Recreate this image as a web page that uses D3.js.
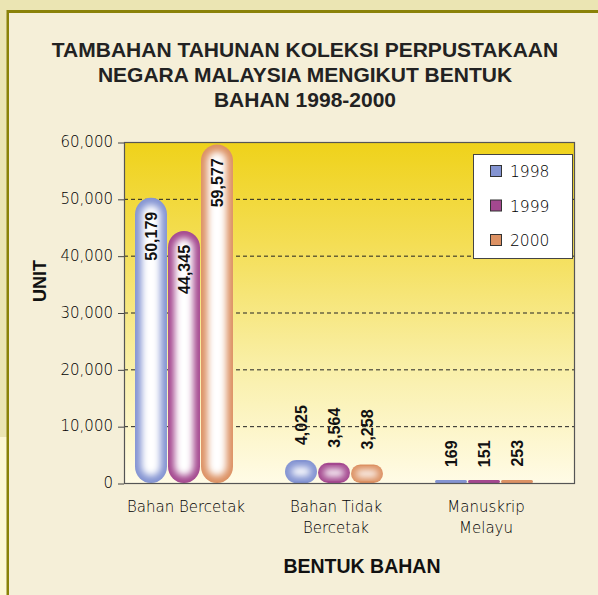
<!DOCTYPE html>
<html>
<head>
<meta charset="utf-8">
<script src="https://cdn.jsdelivr.net/npm/d3@7"></script>
<style>
  body { margin: 0; background: #ebe5b3; }
  svg { display: block; }
</style>
</head>
<body>
<svg id="chart" width="598" height="595"></svg>
<script>
(() => {
  const TITLE_LINES = [
    "TAMBAHAN TAHUNAN KOLEKSI PERPUSTAKAAN",
    "NEGARA MALAYSIA MENGIKUT BENTUK",
    "BAHAN 1998-2000"
  ];
  const CATEGORIES = ["Bahan Bercetak", "Bahan Tidak Bercetak", "Manuskrip Melayu"];
  const CATEGORY_LINES = [["Bahan Bercetak"], ["Bahan Tidak", "Bercetak"], ["Manuskrip", "Melayu"]];
  const YEARS = ["1998", "1999", "2000"];
  const VALUES_1998 = [50179, 4025, 169];
  const VALUES_1999 = [44345, 3564, 151];
  const VALUES_2000 = [59577, 3258, 253];
  const Y_TICKS = [0, 10000, 20000, 30000, 40000, 50000, 60000];
  const Y_LABEL = "UNIT";
  const X_LABEL = "BENTUK BAHAN";

  const COLORS = ["#8494d2", "#a4488f", "#dc9163"];
  const LIGHT_FONT = "'DejaVu Sans', Verdana, sans-serif";
  const BOLD_FONT = "'Liberation Sans', Arial, sans-serif";

  const svg = d3.select("#chart");
  const W = 598, H = 595;
  const plot = { left: 124, top: 142, right: 574, bottom: 483 };

  /* ---------- FRAME ---------- */
  svg.append("rect").attr("width", W).attr("height", H).attr("fill", "#ebe5b3");
  svg.append("rect").attr("x", 0).attr("y", 437).attr("width", 7).attr("height", H - 437).attr("fill", "#fdf8d4");
  svg.append("rect").attr("x", 9).attr("y", 13).attr("width", W - 9).attr("height", H - 13).attr("fill", "#f5efd8");
  svg.append("rect").attr("x", 7).attr("y", 10).attr("width", W - 7).attr("height", 3).attr("fill", "#8a8208");
  svg.append("rect").attr("x", 6.5).attr("y", 10).attr("width", 2.5).attr("height", H - 10).attr("fill", "#8a8208");

  const defs = svg.append("defs");
  const grad = defs.append("linearGradient")
    .attr("id", "plotBg").attr("x1", 0).attr("y1", 0).attr("x2", 0).attr("y2", 1);
  [["0", "#efd21a"], ["0.3", "#f4de55"], ["0.65", "#f9efa6"], ["1", "#fffbe6"]]
    .forEach(([o, c]) => grad.append("stop").attr("offset", o).attr("stop-color", c));
  defs.append("filter").attr("id", "glow")
    .attr("x", "-50%").attr("y", "-50%").attr("width", "200%").attr("height", "200%")
    .append("feGaussianBlur").attr("stdDeviation", 3.5);

  /* ---------- TITLE ---------- */
  svg.append("text")
    .attr("text-anchor", "middle")
    .attr("fill", "#222")
    .style("font-family", BOLD_FONT)
    .style("font-weight", "bold")
    .style("font-size", "21px")
    .selectAll("tspan")
    .data(TITLE_LINES)
    .join("tspan")
    .attr("x", 305)
    .attr("y", (d, i) => 57 + i * 25)
    .text(d => d);

  /* ---------- SCALES ---------- */
  const y = d3.scaleLinear().domain([0, 60000]).range([plot.bottom, plot.top]);

  const x0 = d3.scaleBand()
    .domain(CATEGORIES)
    .range([plot.left - 15, plot.right - 15])
    .paddingInner(0.34)
    .paddingOuter(0.17);

  const x1 = d3.scaleBand().domain(YEARS).range([0, x0.bandwidth()]);
  const color = d3.scaleOrdinal().domain(YEARS).range(COLORS);

  const series = [VALUES_1998, VALUES_1999, VALUES_2000];
  const bars = [];
  CATEGORIES.forEach((cat, ci) => {
    YEARS.forEach((yr, yi) => bars.push({ cat, yr, value: series[yi][ci] }));
  });

  /* ---------- PLOT AREA ---------- */
  svg.append("rect")
    .attr("x", plot.left).attr("y", plot.top)
    .attr("width", plot.right - plot.left).attr("height", plot.bottom - plot.top)
    .attr("fill", "url(#plotBg)");

  svg.append("g")
    .selectAll("line")
    .data(Y_TICKS.filter(t => t > 0 && t < 60000))
    .join("line")
    .attr("x1", plot.left).attr("x2", plot.right)
    .attr("y1", d => y(d) + 0.5).attr("y2", d => y(d) + 0.5)
    .attr("stroke", "#222")
    .attr("stroke-width", 1)
    .attr("stroke-dasharray", "4,3");

  /* ---------- BARS ---------- */
  const barG = svg.append("g");
  bars.forEach(b => {
    const bx = x0(b.cat) + x1(b.yr);
    const bw = x1.bandwidth();
    const top = y(b.value);
    const bh = Math.max(plot.bottom - top, 3);
    const by = plot.bottom - bh;
    const r = Math.min(bw / 2, bh / 2);
    const c = color(b.yr);
    barG.append("rect")
      .attr("x", bx + 0.5).attr("y", by).attr("width", bw - 1).attr("height", bh)
      .attr("rx", r).attr("ry", r)
      .attr("fill", c);
    if (bh > 10) {
      const ins = Math.min(7, bh / 3.2);
      barG.append("rect")
        .attr("x", bx + ins).attr("y", by + ins)
        .attr("width", bw - 2 * ins).attr("height", bh - 2 * ins)
        .attr("rx", Math.max(0, r - ins)).attr("ry", Math.max(0, r - ins))
        .attr("fill", "#fff")
        .attr("filter", "url(#glow)");
    }
  });

  /* ---------- BAR LABELS ---------- */
  const fmt = d3.format(",");
  svg.append("g")
    .selectAll("text")
    .data(bars)
    .join("text")
    .attr("transform", d => {
      const cx = x0(d.cat) + x1(d.yr) + x1.bandwidth() / 2 + 6;
      const inside = plot.bottom - y(d.value) > 80;
      const ty = inside ? y(d.value) + 14 : y(d.value) - 15;
      return `translate(${cx},${ty}) rotate(-90)`;
    })
    .attr("text-anchor", d => (plot.bottom - y(d.value) > 80 ? "end" : "start"))
    .attr("fill", "#111")
    .style("font-family", BOLD_FONT)
    .style("font-weight", "bold")
    .style("font-size", "16px")
    .text(d => fmt(d.value));

  /* ---------- AXES ---------- */
  const yAxis = svg.append("g")
    .attr("transform", `translate(${plot.left},0)`)
    .call(d3.axisLeft(y).tickValues(Y_TICKS).tickFormat(fmt).tickSize(6).tickPadding(5));
  yAxis.select(".domain").remove();
  yAxis.selectAll("line").attr("stroke", "#444").attr("transform", "translate(0,0.5)");
  yAxis.selectAll("text")
    .attr("fill", "#000")
    .style("font-family", LIGHT_FONT)
    .style("font-weight", 300)
    .style("font-size", "15px");

  svg.append("rect")
    .attr("x", plot.left + 0.5).attr("y", plot.top + 0.5)
    .attr("width", plot.right - plot.left).attr("height", plot.bottom - plot.top)
    .attr("fill", "none")
    .attr("stroke", "#555")
    .attr("stroke-width", 1.2);

  const xAxis = svg.append("g")
    .attr("transform", `translate(0,${plot.bottom})`)
    .call(d3.axisBottom(x0).tickSize(0).tickFormat(""));
  xAxis.select(".domain").remove();
  xAxis.selectAll(".tick text")
    .attr("y", 0).attr("dy", null)
    .attr("fill", "#000")
    .style("font-family", LIGHT_FONT)
    .style("font-weight", 300)
    .style("font-size", "15px")
    .each(function (d) {
      const lines = CATEGORY_LINES[CATEGORIES.indexOf(d)];
      d3.select(this).selectAll("tspan")
        .data(lines)
        .join("tspan")
        .attr("x", 2)
        .attr("y", (l, i) => 29 + i * 21)
        .text(l => l);
    });

  svg.append("text")
    .attr("transform", "translate(46,281) rotate(-90)")
    .attr("text-anchor", "middle")
    .attr("fill", "#111")
    .style("font-family", BOLD_FONT)
    .style("font-weight", "bold")
    .style("font-size", "18px")
    .text(Y_LABEL);

  svg.append("text")
    .attr("x", 362).attr("y", 573)
    .attr("text-anchor", "middle")
    .attr("fill", "#111")
    .style("font-family", BOLD_FONT)
    .style("font-weight", "bold")
    .style("font-size", "19.5px")
    .text(X_LABEL);

  /* ---------- LEGEND ---------- */
  const legend = svg.append("g").attr("transform", "translate(473,154)");
  legend.append("rect")
    .attr("x", 0.5).attr("y", 0.5).attr("width", 99).attr("height", 104)
    .attr("fill", "#fff").attr("stroke", "#444");
  const item = legend.selectAll("g.item")
    .data(YEARS)
    .join("g")
    .attr("class", "item")
    .attr("transform", (d, i) => `translate(17,${17 + i * 34.5})`);
  item.append("rect")
    .attr("x", 0.5).attr("y", -5.5).attr("width", 11).attr("height", 11)
    .attr("fill", d => color(d)).attr("stroke", "#333");
  item.append("text")
    .attr("x", 20).attr("y", 6)
    .attr("fill", "#000")
    .style("font-family", LIGHT_FONT)
    .style("font-weight", 300)
    .style("font-size", "15.5px")
    .text(d => d);
})();
</script>
</body>
</html>
